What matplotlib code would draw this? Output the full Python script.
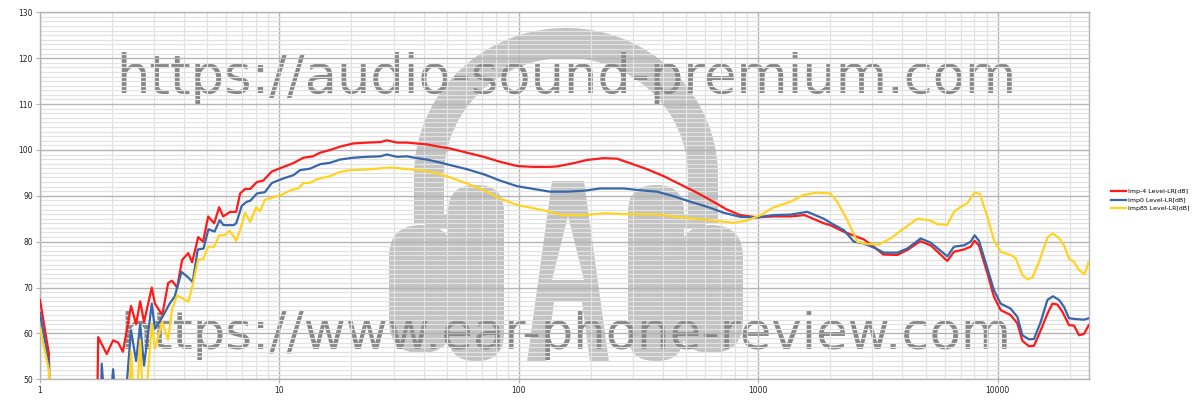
import numpy as np
import matplotlib
matplotlib.use("Agg")
import matplotlib.pyplot as plt
from matplotlib.patches import Polygon, FancyBboxPatch, Rectangle, PathPatch
from matplotlib.path import Path
from matplotlib.transforms import Affine2D

# ---------------- data ----------------
freq_imp_m4 = [1.0, 1.09, 1.1, 1.72, 1.75, 1.9, 2.02, 2.12, 2.22, 2.40, 2.52, 2.62, 2.72, 2.93, 3.02,
               3.24, 3.43, 3.56, 3.74, 3.92, 4.16, 4.32, 4.58, 4.80, 5.04, 5.34, 5.60, 5.82, 6.23, 6.60,
               6.85, 7.19, 7.55, 8.05, 8.55, 9.30, 10.4, 11.4, 12.6, 13.8, 14.8, 16.3, 17.9, 20.3, 23.2,
               26.4, 28.1, 31.0, 34.1, 37.5, 41.3, 45.5, 51.7, 60.7, 71.3, 83.7, 98.3, 115, 135, 144,
               169, 192, 225, 257, 292, 343, 402, 472, 554, 650, 740, 840, 990, 1160, 1370, 1560, 1880,
               2000, 2270, 2540, 2760, 3040, 3330, 3800, 4200, 4750, 5250, 6160, 6570, 7230, 7710, 8010,
               8350, 9060, 9650, 10290, 11330, 12080, 12680, 13510, 14180, 15130, 16140, 16930, 17760,
               18640, 19860, 20840, 21870, 22950, 24000]
level_imp_m4 = [67.3, 55.5, 30, 30, 59.2, 55.5, 58.5, 58.0, 56.0, 66.0, 62.0, 67.0, 62.5, 70.0, 66.5,
                64.0, 71.0, 71.5, 70.0, 76.0, 77.5, 75.5, 81.0, 80.0, 85.5, 84.0, 87.5, 85.5, 86.5, 86.5,
                90.5, 91.5, 91.5, 93.0, 93.3, 95.3, 96.3, 97.1, 98.3, 98.6, 99.4, 100.0, 100.7, 101.4, 101.6,
                101.7, 102.1, 101.6, 101.6, 101.4, 101.2, 100.8, 100.3, 99.4, 98.5, 97.4, 96.5, 96.3, 96.3, 96.4,
                97.1, 97.8, 98.2, 98.1, 97.1, 95.8, 94.3, 92.5, 90.7, 88.7, 87.0, 85.8, 85.3, 85.5, 85.5, 85.8, 84.0,
                83.6, 82.2, 81.2, 80.5, 78.9, 77.2, 77.1, 78.2, 80.1, 79.2, 75.8, 77.8, 78.3, 78.9, 80.2,
                79.2, 73.1, 68.0, 65.1, 64.0, 62.2, 58.4, 57.2, 57.3, 60.7, 64.3, 66.5, 66.3,
                64.7, 61.8, 61.7, 59.6, 59.9, 61.8]

freq_imp_0 = [1.0, 1.09, 1.1, 1.78, 1.81, 1.86, 1.97, 2.02, 2.07, 2.27, 2.40, 2.52, 2.62, 2.72, 2.93,
              3.02, 3.24, 3.48, 3.65, 3.90, 4.14, 4.34, 4.56, 4.82, 5.05, 5.36, 5.63, 5.84, 6.43, 6.60,
              6.96, 7.3, 7.55, 8.05, 8.7, 9.3, 10.4, 11.45, 12.2, 13.4, 14.8, 16.3, 17.9, 20.4, 23.2,
              26.4, 28.1, 31.0, 34.1, 37.5, 41.3, 45.5, 51.7, 60.7, 71.3, 83.7, 98.3, 115, 135, 159,
              187, 219, 274, 322, 378, 444, 521, 612, 718, 843, 990, 1161, 1364, 1602, 1879, 2004,
              2279, 2508, 2762, 3041, 3349, 3809, 4195, 4767, 5248, 6164, 6569, 7232, 7713, 8013, 8354,
              9057, 9650, 10290, 11330, 12085, 12685, 13515, 14180, 15125, 16135, 17025, 18040, 18930,
              19860, 21530, 22950, 24000]
level_imp_0 = [64.4, 53.4, 30, 30, 53.4, 45, 45, 52.2, 45, 45, 60.7, 54.0, 62.0, 53.0, 66.5,
               61.0, 63.5, 66.5, 68.0, 73.4, 72.3, 71.2, 78.3, 78.5, 82.7, 82.2, 84.7, 83.6, 83.6, 84.0,
               87.8, 88.7, 88.9, 90.5, 90.8, 92.8, 93.8, 94.5, 95.6, 95.9, 96.9, 97.2, 97.9, 98.3, 98.5,
               98.6, 99.0, 98.5, 98.6, 98.2, 97.9, 97.4, 96.7, 95.8, 94.7, 93.3, 92.1, 91.5, 90.9, 90.9,
               91.1, 91.6, 91.6, 91.2, 90.9, 89.9, 88.7, 87.6, 86.3, 85.4, 85.3, 85.8, 85.9, 86.5, 85.0, 84.1,
               82.5, 80.0, 79.6, 78.7, 77.6, 77.6, 78.5, 80.7, 79.8, 76.8, 78.9, 79.2, 80.0, 81.4, 80.2,
               74.2, 69.4, 66.5, 65.4, 63.6, 59.6, 58.7, 58.8, 62.5, 67.3, 68.1, 67.3, 65.8,
               63.3, 63.1, 63.0, 63.3]

freq_imp_85 = [1.0, 1.09, 1.1, 2.30, 2.40, 2.50, 2.62, 2.72, 2.93, 3.02, 3.24, 3.43, 3.56, 3.74, 4.16,
               4.32, 4.58, 4.80, 5.04, 5.34, 5.60, 5.90, 6.20, 6.60, 6.85, 7.19, 7.55, 8.0, 8.3, 8.7,
               9.45, 10.2, 11.1, 12.0, 12.6, 13.4, 14.3, 16.3, 17.9, 19.8, 22.5, 25.6, 29.0, 32.9, 36.2,
               39.9, 45.5, 51.7, 60.7, 71.3, 83.7, 98.3, 115, 135, 150, 187, 230, 274, 350, 403, 458,
               574, 673, 790, 899, 1022, 1161, 1364, 1550, 1764, 2004, 2138, 2354, 2592, 2853, 3191,
               3572, 4060, 4617, 5248, 5598, 6164, 6569, 7006, 7473, 8013, 8433, 9057, 9650, 10290,
               11330, 11890, 12685, 13310, 13964, 14880, 16135, 16930, 18040, 18930, 19860, 20840,
               21870, 23100, 24000]
level_imp_85 = [61.1, 52.0, 30, 30, 56.0, 40, 58.5, 40, 62.2, 56.7, 62.5, 58.6, 65.3, 68.3, 66.9,
                70.0, 76.1, 76.2, 78.9, 78.9, 81.4, 81.4, 82.4, 80.2, 82.5, 86.3, 84.3, 87.5, 86.6, 89.1,
                89.7, 90.2, 91.2, 91.6, 92.8, 92.8, 93.6, 94.3, 95.2, 95.6, 95.7, 95.9, 96.2, 95.9, 95.7,
                95.5, 94.9, 94.0, 92.7, 91.2, 89.4, 88.0, 87.3, 86.5, 85.8, 85.8, 86.2, 86.0, 86.0, 85.8, 85.4,
                84.9, 84.5, 84.1, 84.6, 85.8, 87.5, 88.7, 90.2, 90.7, 90.5, 88.7, 84.7, 80.0, 79.5, 79.4,
                80.7, 82.9, 85.0, 84.6, 83.8, 83.7, 86.5, 87.6, 88.4, 90.7, 90.4, 85.4, 80.3, 77.8,
                77.1, 76.4, 72.7, 71.8, 72.2, 75.6, 80.9, 81.8, 80.8, 79.2, 76.3, 75.6,
                73.8, 72.9, 75.6]

series_labels = ["Imp-4 Level-LR[dB]", "Imp0 Level-LR[dB]", "Imp85 Level-LR[dB]"]
series_colors = ["#ff1a1a", "#3767a8", "#ffd320"]

x_ticks = [1, 10, 100, 1000, 10000]
x_tick_labels = ["1", "10", "100", "1000", "10000"]
y_ticks = [50, 60, 70, 80, 90, 100, 110, 120, 130]

watermark_top = "https://audio-sound-premium.com"
watermark_bottom = "https://www.ear-phone-review.com"

# ---------------- figure ----------------
fig = plt.figure(figsize=(12, 4), dpi=100)
ax = fig.add_axes([40 / 1200, 1 - 379.3 / 400, 1048.7 / 1200, 367 / 400])
ax.set_xscale("log")
ax.set_xlim(1, 24000)
ax.set_ylim(50, 130)

# pixel-space transform for the watermark decoration (y down)
pix = Affine2D().scale(1 / 1200, -1 / 400).translate(0, 1) + fig.transFigure

logo_col = "#c3c3c3"
# headband
cx, cy, yb = 566, 176, 224
ao, bo, ai, bi = 152, 148, 122, 118
t = np.linspace(0, np.pi, 120)
outer = np.column_stack([cx + ao * np.cos(t), cy - bo * np.sin(t)])
inner = np.column_stack([cx + ai * np.cos(t[::-1]), cy - bi * np.sin(t[::-1])])
band = np.vstack([outer, [[cx - ao, yb], [cx - ai, yb]], inner, [[cx + ai, yb], [cx + ao, yb]]])
ax.add_artist(Polygon(band, closed=True, transform=pix, facecolor=logo_col, edgecolor="none", zorder=0.1))
# ear cups (left and right)
for sgn in (-1, 1):
    px_in = cx + sgn * 90
    px_out = cx + sgn * 145
    ax.add_artist(FancyBboxPatch((px_out - 32, 225), 64, 128, boxstyle="round,pad=0,rounding_size=32",
                                 transform=pix, facecolor=logo_col, edgecolor="none", zorder=0.1))
    ax.add_artist(Rectangle((cx + sgn * 128 - 12, 214), 24, 14, transform=pix, facecolor=logo_col,
                            edgecolor="none", zorder=0.1))
    ax.add_artist(FancyBboxPatch((px_in - 28, 185), 56, 176, boxstyle="round,pad=0,rounding_size=27",
                                 transform=pix, facecolor=logo_col, edgecolor="none", zorder=0.1))
# letter A
a_outer = [(527, 362), (552, 181), (584, 181), (609, 362), (590, 362), (582, 302), (554, 302), (546, 362), (527, 362)]
a_hole = [(568, 216), (584, 280), (552, 280), (568, 216)]
verts = a_outer + a_hole[::-1]
codes = ([Path.MOVETO] + [Path.LINETO] * (len(a_outer) - 2) + [Path.CLOSEPOLY]
         + [Path.MOVETO] + [Path.LINETO] * (len(a_hole) - 2) + [Path.CLOSEPOLY])
ax.add_artist(PathPatch(Path(verts, codes), transform=pix, facecolor=logo_col, edgecolor="none", zorder=0.1))

# watermark texts
ax.text(116 / 1200, 1 - 93 / 400, watermark_top, transform=fig.transFigure, fontsize=38,
        family="DejaVu Sans", color="#868686", ha="left", va="baseline", zorder=0.2)
ax.text(120 / 1200, 1 - 349 / 400, watermark_bottom, transform=fig.transFigure, fontsize=37,
        family="DejaVu Sans", color="#868686", ha="left", va="baseline", zorder=0.2)

# grid
ax.set_axisbelow(True)
ax.yaxis.set_minor_locator(matplotlib.ticker.MultipleLocator(1))
ax.xaxis.set_minor_locator(matplotlib.ticker.LogLocator(base=10, subs=np.arange(2, 10)))
ax.grid(which="minor", color="#e2e2e2", linewidth=0.9)
ax.grid(which="major", color="#b4b4b4", linewidth=1.0)
ax.patch.set_alpha(0)

# data lines
for fx, lv, lab, col in [(freq_imp_m4, level_imp_m4, series_labels[0], series_colors[0]),
                         (freq_imp_0, level_imp_0, series_labels[1], series_colors[1]),
                         (freq_imp_85, level_imp_85, series_labels[2], series_colors[2])]:
    ax.plot(fx, lv, color=col, linewidth=1.6, label=lab, zorder=3)

ax.set_xticks(x_ticks)
ax.set_xticklabels(x_tick_labels)
ax.set_yticks(y_ticks)
ax.tick_params(which="major", length=3, color="#b4b4b4", labelsize=5.5, labelcolor="#222222", pad=2)
ax.tick_params(which="minor", length=0)
for s in ax.spines.values():
    s.set_color("#b4b4b4")
    s.set_linewidth(1.0)

handles, labels = ax.get_legend_handles_labels()
fig.legend(handles, labels, loc="center left", bbox_to_anchor=(1111 / 1200, 1 - 200 / 400),
           frameon=False, fontsize=4.5, handlelength=2.4, handletextpad=0.4, labelspacing=0.45,
           borderpad=0, borderaxespad=0)

fig.savefig("out.png", dpi=100, facecolor="white")
